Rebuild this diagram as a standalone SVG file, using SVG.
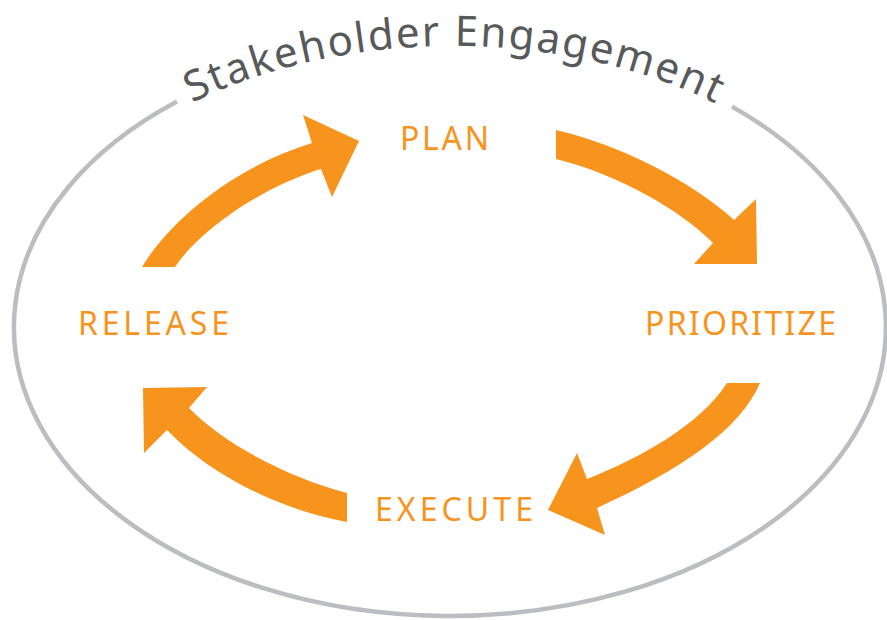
<svg xmlns="http://www.w3.org/2000/svg" width="887" height="620" viewBox="0 0 887 620">
  <defs>
    <style>
      .ring { fill: none; stroke: #BCBDC0; stroke-width: 4.5; }
      .title { font-family: "Noto Sans", "Liberation Sans", sans-serif; font-size: 42px; fill: #58595B; }
      .label { font-family: "Noto Sans", "Liberation Sans", sans-serif; font-size: 32px; font-weight: 400; fill: #F7941D; }
      .arrow { fill: #F7941D; stroke: none; }
    </style>
    <path id="titleArc" d="M185,106.3 A434,283 0 0 1 725,108.5"/>
  </defs>
  <rect width="887" height="620" fill="#FFFFFF"/>

  <g id="stakeholder-engagement">
    <path class="ring" d="M732,106.6 A436,289 0 1 1 177,101.6"/>
    <text class="title"><textPath href="#titleArc" startOffset="8" textLength="540" lengthAdjust="spacing">Stakeholder Engagement</textPath></text>
  </g>

  <g id="connectors">
    <path id="release-to-plan" class="arrow" d="M142,267 C165,228 225,170 312,143 L303,115 L359,141 L332,197 L321,169 C260,188 200,230 175,267 Z"/>
    <path id="plan-to-prioritize" class="arrow" d="M556,130 C620,145 690,180 734,220 L756,199 L757,264 L694,264 L713,243 C680,210 620,175 556,159 Z"/>
    <path id="prioritize-to-execute" class="arrow" d="M727,383 L760,383 C740,430 680,470 597,508 L605,535 L548,510 L577,453 L587,479 C640,458 700,425 727,383 Z"/>
    <path id="execute-to-release" class="arrow" d="M347,522 C280,510 210,475 167,430 L144,453 L143,388 L207,387 L189,408 C225,445 290,478 347,493 Z"/>
  </g>

  <g id="plan">
    <text class="label" x="400" y="150" textLength="89" lengthAdjust="spacing">PLAN</text>
  </g>
  <g id="prioritize">
    <text class="label" x="645" y="335" textLength="191" lengthAdjust="spacing">PRIORITIZE</text>
  </g>
  <g id="execute">
    <text class="label" x="375" y="521" textLength="158" lengthAdjust="spacing">EXECUTE</text>
  </g>
  <g id="release">
    <text class="label" x="78" y="335" textLength="151" lengthAdjust="spacing">RELEASE</text>
  </g>
</svg>
